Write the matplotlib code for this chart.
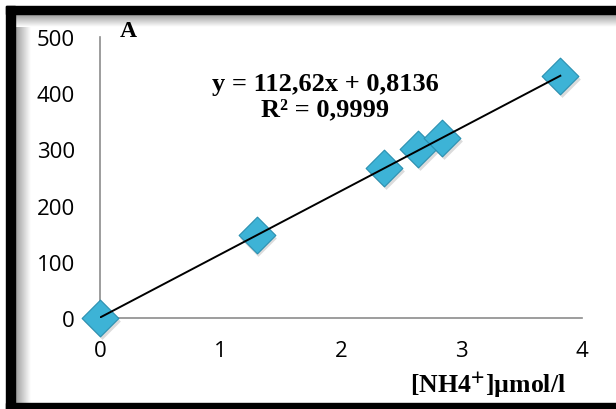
import numpy as np
import matplotlib.pyplot as plt
from matplotlib.patches import Rectangle

# calibration data
conc = [0, 1.3, 2.36, 2.64, 2.84, 3.82]
absorb = [0, 148, 267, 300, 320, 430]
slope = 112.62
intercept = 0.8136
eq_text = "y = 112,62x + 0,8136\nR² = 0,9999"
x_ticks = [0, 1, 2, 3, 4]
y_ticks = [0, 100, 200, 300, 400, 500]

W, H = 616, 410
serif = ["Liberation Serif", "DejaVu Serif"]
plt.rcParams["mathtext.fontset"] = "stix"
fig = plt.figure(figsize=(W / 100, H / 100), dpi=100)
fig.patch.set_facecolor("white")

# soft shadow inside the frame (left and top)
grad = np.linspace(0.6, 1.0, 64).reshape(1, -1)
sh_left = fig.add_axes([15 / W, 0, 16 / W, 1 - 15 / H])
sh_left.imshow(grad, cmap="gray", vmin=0, vmax=1, aspect="auto")
sh_left.axis("off")
sh_top = fig.add_axes([15 / W, 1 - 28 / H, 1 - 15 / W, 13 / H])
sh_top.imshow(grad.T, cmap="gray", vmin=0, vmax=1, aspect="auto")
sh_top.axis("off")

# thick black frame, right side runs off the picture
fig.patches.append(Rectangle((6 / W, 0), 9 / W, 1 - 7 / H, transform=fig.transFigure,
                             color="black", zorder=5))
fig.patches.append(Rectangle((6 / W, 1 - 15 / H), 1, 8 / H, transform=fig.transFigure,
                             color="black", zorder=5))
fig.patches.append(Rectangle((6 / W, 0), 1, 6 / H, transform=fig.transFigure,
                             color="black", zorder=5))

ax = fig.add_axes([100 / W, 1 - 319 / H, 482 / W, 281 / H])
ax.set_facecolor("none")
ax.set_xlim(0, 4)
ax.set_ylim(0, 500)
ax.set_xticks(x_ticks)
ax.set_yticks(y_ticks)
ax.tick_params(length=0, labelsize=16, colors="black")
ax.tick_params(axis="x", pad=16)
ax.tick_params(axis="y", pad=18)
for lab in ax.get_xticklabels() + ax.get_yticklabels():
    lab.set_fontfamily("Open Sans")
for s in ["top", "right"]:
    ax.spines[s].set_visible(False)
for s in ["left", "bottom"]:
    ax.spines[s].set_color("#8c8c8c")
    ax.spines[s].set_linewidth(1.2)

# markers with a faint shadow
ax.scatter(np.array(conc) + 0.015, np.array(absorb) - 5, marker="D", s=350,
           color="#9a9a9a", alpha=0.35, linewidths=0, zorder=3, clip_on=False)
ax.scatter(conc, absorb, marker="D", s=350, color="#3db3d6",
           edgecolors="#2a8fb0", linewidths=0.8, zorder=4, clip_on=False)

xs = np.array([0, max(conc)])
ax.plot(xs, slope * xs + intercept, color="black", lw=1.4, zorder=5)

ax.text(0.16, 512, "A", fontfamily=serif, fontweight="bold",
        fontsize=17, va="center", ha="left", clip_on=False)
ax.text(1.87, 395, eq_text, fontfamily=serif, fontweight="bold",
        fontsize=19, ha="center", va="center", linespacing=1.1)
fig.text(488 / W, 1 - 385 / H, r"[NH4$^{\mathbf{+}}$]µmol/l", fontfamily=serif,
         fontweight="bold", fontsize=18.5, ha="center", va="center")

fig.savefig("out.png", dpi=100)
